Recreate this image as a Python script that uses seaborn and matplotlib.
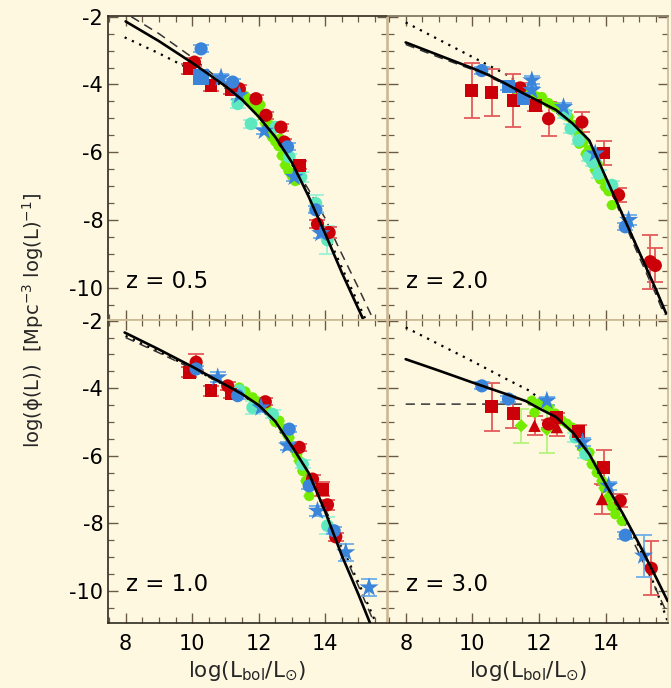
import matplotlib
matplotlib.use("Agg")
import matplotlib.pyplot as plt
import seaborn as sns
from matplotlib.ticker import MultipleLocator

sns.set_theme(style="ticks")
plt.rcParams['font.family'] = ['DejaVu Sans']
plt.rcParams['mathtext.fontset'] = 'dejavusans'

BG = "#fff8e1"
RED, RED_E = "#cc0008", "#e35a5a"
BLUE, BLUE_E = "#3a84da", "#6eaee8"
GREEN, GREEN_E = "#74ec00", "#b6f27a"
CYAN, CYAN_E = "#5de8bf", "#9cf2d9"
DARK, TAN = "#2f2a20", "#cbb893"

# ---------------- data (x = log L, y = log phi, yerr) ----------------
# z = 0.5
Z05_RED_SQ = [(9.92, -3.54, 0.15), (10.57, -4.03, 0.15), (11.17, -4.16, 0.12), (13.22, -6.38, 0.12)]
Z05_RED_CI = [(10.07, -3.34, 0.12), (11.42, -4.13, 0.1), (11.92, -4.42, 0.1), (12.22, -4.91, 0.1),
              (12.67, -5.26, 0.1), (12.77, -5.70, 0.1), (13.77, -8.12, 0.12), (14.12, -8.37, 0.15)]
Z05_BLUE_CI = [(10.27, -2.95, 0.1), (11.22, -3.93, 0.1), (12.87, -5.84, 0.1), (13.72, -7.70, 0.1)]
Z05_BLUE_SQ = [(10.27, -3.78, 0.15)]
Z05_BLUE_ST = [(10.87, -3.80, 0.12), (11.42, -4.32, 0.1), (12.17, -5.37, 0.1), (13.07, -6.73, 0.12),
               (13.87, -8.39, 0.15)]
Z05_CYAN = [(11.37, -4.57, 0.12), (11.77, -5.16, 0.12), (12.52, -5.26, 0.1), (12.92, -6.14, 0.1),
            (13.27, -6.73, 0.15), (13.72, -7.51, 0.25), (14.07, -8.59, 0.4)]
Z05_GREEN = [(11.5, -4.27), (11.6, -4.35), (11.7, -4.45), (11.8, -4.55), (11.9, -4.65), (12.0, -4.75),
             (12.1, -4.92), (12.2, -5.15), (12.3, -5.40), (12.4, -5.55), (12.5, -5.68), (12.6, -5.82),
             (12.7, -6.10), (12.8, -6.38), (12.9, -6.55), (13.0, -6.70), (13.1, -6.85), (12.05, -4.6),
             (12.25, -4.95), (12.45, -5.3), (12.65, -5.6), (12.85, -6.1), (12.35, -5.2)]
Z05_SOLID = [(8.0, -2.14), (9.0, -2.72), (10.0, -3.36), (10.5, -3.70), (11.0, -4.05), (11.5, -4.45),
             (12.0, -4.95), (12.5, -5.55), (13.0, -6.30), (13.5, -7.30), (14.0, -8.40), (14.5, -9.55),
             (15.13, -10.9)]
Z05_DASH = [(8.17, -2.0), (9.0, -2.5), (10.0, -3.2), (11.0, -4.0), (12.0, -4.95), (12.5, -5.55),
            (13.0, -6.30), (13.5, -7.10), (14.0, -7.95), (14.4, -8.80), (15.0, -10.0), (15.43, -10.9)]
Z05_DOT = [(7.97, -2.61), (9.0, -3.08), (9.72, -3.44), (10.5, -3.8), (11.5, -4.4), (12.5, -5.5),
           (13.5, -7.2), (14.5, -9.4), (15.2, -10.9)]

# z = 2.0
Z20_RED_SQ = [(9.98, -4.18, 0.81), (10.58, -4.23, 0.7), (11.23, -4.47, 0.78), (11.88, -4.62, 0.15),
              (13.93, -6.02, 0.35)]
Z20_RED_CI = [(11.43, -4.10, 0.15), (12.28, -5.01, 0.5), (13.28, -5.11, 0.3), (14.38, -7.26, 0.2),
              (15.33, -9.23, 0.8), (15.48, -9.34, 0.5)]
Z20_BLUE_CI = [(10.28, -3.59, 0.1), (14.58, -8.20, 0.1)]
Z20_BLUE_SQ = [(11.08, -4.06, 0.1), (11.53, -4.42, 0.12)]
Z20_BLUE_ST = [(11.78, -3.88, 0.12), (11.78, -4.17, 0.1), (12.73, -4.67, 0.12), (13.68, -6.04, 0.12),
               (14.68, -8.00, 0.15)]
Z20_CYAN = [(12.78, -4.87, 0.12), (13.18, -5.65, 0.12), (13.48, -6.14, 0.12), (13.78, -6.63, 0.12),
            (14.18, -6.97, 0.12), (12.95, -5.3, 0.12), (13.6, -6.3, 0.12)]
Z20_GREEN = [(11.38, -4.32), (11.6, -4.25), (11.9, -4.35), (12.08, -4.37), (12.28, -4.55), (12.48, -4.67),
             (12.68, -4.82), (12.88, -4.96), (13.03, -5.2), (13.18, -5.45), (13.33, -5.7), (13.48, -5.94),
             (13.58, -6.25), (13.68, -6.53), (13.83, -6.8), (13.98, -7.02), (14.08, -7.15), (14.18, -7.56),
             (13.2, -5.75), (13.4, -6.05), (13.75, -6.35)]
Z20_SOLID = [(8.0, -2.76), (9.0, -3.14), (10.0, -3.52), (10.5, -3.73), (11.0, -3.98), (11.5, -4.25),
             (12.0, -4.50), (12.5, -4.75), (13.0, -5.15), (13.5, -5.65), (14.0, -6.75), (14.5, -7.85),
             (15.0, -8.95), (15.5, -10.05), (15.8, -10.75)]
Z20_DASH = [(8.0, -2.82), (9.0, -3.2), (10.0, -3.56), (11.0, -4.0), (12.0, -4.5), (12.5, -4.8),
            (13.0, -5.25), (13.5, -5.85), (14.0, -6.85), (14.5, -7.95), (15.0, -9.1), (15.5, -10.2),
            (15.75, -10.8)]
Z20_DOT = [(8.0, -2.17), (9.0, -2.68), (10.0, -3.19), (11.08, -3.74), (12.0, -4.4), (13.0, -5.2),
           (14.0, -6.75), (15.0, -8.95), (15.8, -10.8)]

# z = 1.0
Z10_RED_SQ = [(9.92, -3.53, 0.15), (10.57, -4.07, 0.15), (11.17, -4.17, 0.12), (13.92, -6.99, 0.2)]
Z10_RED_CI = [(10.12, -3.23, 0.24), (11.07, -3.93, 0.12), (12.2, -4.4, 0.1), (13.22, -5.75, 0.1),
              (13.62, -6.69, 0.12), (14.07, -7.45, 0.15), (14.32, -8.40, 0.12)]
Z10_BLUE_CI = [(10.12, -3.43, 0.1), (11.37, -4.22, 0.1), (12.92, -5.21, 0.1), (13.52, -6.89, 0.1),
               (14.27, -8.22, 0.1)]
Z10_BLUE_ST = [(10.77, -3.68, 0.15), (12.07, -4.57, 0.12), (12.87, -5.70, 0.12), (13.77, -7.63, 0.15),
               (14.62, -8.86, 0.25), (15.32, -9.90, 0.25)]
Z10_CYAN = [(11.42, -4.07, 0.12), (11.82, -4.57, 0.2), (12.42, -4.77, 0.12), (13.32, -6.25, 0.12),
            (14.07, -8.07, 0.25)]
Z10_GREEN = [(11.42, -3.98), (11.6, -4.1), (11.82, -4.27), (12.0, -4.4), (12.22, -4.57), (12.42, -4.75),
             (12.62, -4.96), (12.77, -5.2), (12.92, -5.46), (13.07, -5.8), (13.22, -6.15), (13.32, -6.45),
             (13.42, -6.74), (13.52, -7.19), (12.5, -5.0), (12.85, -5.35), (13.15, -5.95)]
Z10_SOLID = [(7.97, -2.35), (9.0, -2.85), (10.0, -3.36), (11.0, -3.90), (11.5, -4.17), (12.0, -4.50),
             (12.5, -4.98), (13.0, -5.72), (13.5, -6.50), (14.0, -7.65), (14.5, -8.95), (15.0, -10.1),
             (15.37, -11.0)]
Z10_DASH = [(8.0, -2.5), (9.0, -2.95), (10.0, -3.42), (11.0, -3.92), (12.0, -4.5), (13.0, -5.7),
            (14.0, -7.55), (14.5, -8.75), (15.0, -9.85), (15.5, -11.0)]
Z10_DOT = [(8.0, -2.45), (9.0, -2.92), (10.0, -3.4), (11.0, -3.92), (12.0, -4.5), (13.0, -5.7),
           (14.0, -7.6), (14.5, -8.7), (15.0, -9.75), (15.55, -11.0)]

# z = 3.0
Z30_RED_SQ = [(10.58, -4.55, 0.71), (11.23, -4.75, 0.42), (12.53, -4.86, 0.12), (13.18, -5.28, 0.2),
              (13.93, -6.35, 0.52)]
Z30_RED_CI = [(12.28, -5.06, 0.12), (14.43, -7.33, 0.2), (15.36, -9.33, 0.8)]
Z30_RED_TRI = [(11.86, -5.11, 0.28), (12.53, -5.15, 0.27), (13.88, -7.28, 0.45)]
Z30_BLUE_CI = [(10.28, -3.93, 0.1), (11.08, -4.32, 0.1), (14.58, -8.35, 0.1)]
Z30_BLUE_ST = [(12.23, -4.37, 0.12), (13.3, -5.6, 0.12), (14.08, -6.89, 0.12), (15.13, -8.96, 0.62)]
Z30_GREEN_D = [(11.46, -5.11, 0.5), (12.23, -5.22, 0.7)]
Z30_CYAN = [(13.08, -5.46, 0.12), (13.38, -5.95, 0.12)]
Z30_GREEN = [(11.78, -4.37), (11.86, -4.72), (12.0, -4.45), (12.28, -4.57), (12.48, -4.75), (12.68, -4.96),
             (12.83, -5.05), (12.98, -5.16), (13.13, -5.45), (13.28, -5.75), (13.43, -6.0), (13.58, -6.25),
             (13.73, -6.5), (13.88, -6.74), (14.08, -7.24), (14.18, -7.5), (14.28, -7.73), (14.48, -7.93),
             (13.5, -5.9), (13.95, -6.95)]
Z30_SOLID = [(8.0, -3.14), (9.0, -3.48), (10.0, -3.83), (11.0, -4.17), (11.6, -4.38), (12.0, -4.60),
             (12.5, -4.85), (13.0, -5.30), (13.5, -5.95), (14.0, -6.85), (14.5, -7.70), (15.0, -8.62),
             (15.5, -9.60), (15.85, -10.3)]
Z30_DASH = [(8.0, -4.47), (11.5, -4.47), (12.0, -4.5), (12.5, -4.8), (13.0, -5.35), (13.5, -6.05),
            (14.0, -6.95), (14.5, -7.9), (15.0, -8.9), (15.5, -9.95), (15.85, -10.7)]
Z30_DOT = [(8.0, -2.2), (9.0, -2.7), (10.0, -3.2), (11.0, -3.72), (11.7, -4.07), (12.0, -4.3),
           (12.5, -4.75), (13.0, -5.3), (13.5, -6.0), (14.0, -6.85), (14.5, -7.75), (15.0, -8.7),
           (15.5, -9.95), (15.85, -10.9)]

Z_LABELS = ["z = 0.5", "z = 2.0", "z = 1.0", "z = 3.0"]
X_TICKS = [8, 10, 12, 14]
Y_TICKS = [-2, -4, -6, -8, -10]

PANELS = [
    dict(lines=(Z05_SOLID, Z05_DASH, Z05_DOT),
         pts=[(Z05_GREEN, 'o', 55, GREEN, GREEN_E), (Z05_CYAN, 'o', 85, CYAN, CYAN_E),
              (Z05_RED_SQ, 's', 85, RED, RED_E), (Z05_RED_CI, 'o', 90, RED, RED_E),
              (Z05_BLUE_SQ, 's', 130, BLUE, BLUE_E), (Z05_BLUE_CI, 'o', 90, BLUE, BLUE_E),
              (Z05_BLUE_ST, '*', 210, BLUE, BLUE_E)]),
    dict(lines=(Z20_SOLID, Z20_DASH, Z20_DOT),
         pts=[(Z20_GREEN, 'o', 55, GREEN, GREEN_E), (Z20_CYAN, 'o', 85, CYAN, CYAN_E),
              (Z20_RED_SQ, 's', 85, RED, RED_E), (Z20_RED_CI, 'o', 90, RED, RED_E),
              (Z20_BLUE_SQ, 's', 90, BLUE, BLUE_E), (Z20_BLUE_CI, 'o', 90, BLUE, BLUE_E),
              (Z20_BLUE_ST, '*', 210, BLUE, BLUE_E)]),
    dict(lines=(Z10_SOLID, Z10_DASH, Z10_DOT),
         pts=[(Z10_GREEN, 'o', 55, GREEN, GREEN_E), (Z10_CYAN, 'o', 85, CYAN, CYAN_E),
              (Z10_RED_SQ, 's', 85, RED, RED_E), (Z10_RED_CI, 'o', 90, RED, RED_E),
              (Z10_BLUE_CI, 'o', 90, BLUE, BLUE_E), (Z10_BLUE_ST, '*', 210, BLUE, BLUE_E)]),
    dict(lines=(Z30_SOLID, Z30_DASH, Z30_DOT),
         pts=[(Z30_GREEN, 'o', 55, GREEN, GREEN_E), (Z30_GREEN_D, 'D', 45, GREEN, GREEN_E),
              (Z30_CYAN, 'o', 75, CYAN, CYAN_E),
              (Z30_RED_SQ, 's', 85, RED, RED_E), (Z30_RED_CI, 'o', 90, RED, RED_E),
              (Z30_RED_TRI, '^', 80, RED, RED_E), (Z30_BLUE_CI, 'o', 90, BLUE, BLUE_E),
              (Z30_BLUE_ST, '*', 210, BLUE, BLUE_E)]),
]

W, H = 671, 688
fig = plt.figure(figsize=(W / 100, H / 100), dpi=100, facecolor=BG)
boxes = [(108, 16, 387, 320), (388, 16, 668, 320), (108, 320, 387, 623), (388, 320, 668, 623)]

for i, (panel, box) in enumerate(zip(PANELS, boxes)):
    x0, y0, x1, y1 = box
    ax = fig.add_axes([x0 / W, 1 - y1 / H, (x1 - x0) / W, (y1 - y0) / H])
    ax.set_facecolor(BG)
    ax.set_xlim(7.47, 15.86)
    ax.set_ylim(-10.95, -1.98)

    solid, dash, dot = panel['lines']
    sns.lineplot(x=[p[0] for p in dot], y=[p[1] for p in dot], sort=False, estimator=None, ax=ax,
                 color='black', lw=1.6, linestyle=(0, (1, 2.6)), zorder=2)
    sns.lineplot(x=[p[0] for p in dash], y=[p[1] for p in dash], sort=False, estimator=None, ax=ax,
                 color='#333333', lw=1.1, linestyle=(0, (6, 4)), zorder=2)

    for series, mk, s, col, ecol in panel['pts']:
        xs = [p[0] for p in series]
        ys = [p[1] for p in series]
        if len(series[0]) == 3:
            es = [p[2] for p in series]
            ax.errorbar(xs, ys, yerr=es, fmt='none', ecolor=ecol, elinewidth=1.3, capsize=6,
                        capthick=1.3, zorder=3)
        else:
            ax.errorbar(xs, ys, xerr=0.18, yerr=0.12, fmt='none', ecolor=ecol, elinewidth=1.1,
                        capsize=0, zorder=3)
        sns.scatterplot(x=xs, y=ys, marker=mk, s=s, color=col, edgecolor='none', linewidth=0,
                        ax=ax, zorder=4)

    sns.lineplot(x=[p[0] for p in solid], y=[p[1] for p in solid], sort=False, estimator=None, ax=ax,
                 color='black', lw=1.9, zorder=5)

    ax.text(8.0, -10.0, Z_LABELS[i], fontsize=16.5, ha='left', va='baseline', color='black', zorder=6)

    ax.xaxis.set_major_locator(MultipleLocator(2))
    ax.xaxis.set_minor_locator(MultipleLocator(0.5))
    ax.yaxis.set_major_locator(MultipleLocator(2))
    ax.yaxis.set_minor_locator(MultipleLocator(0.5))
    ax.tick_params(which='both', direction='in', top=True, right=True, colors='#6a5c44',
                   labelcolor='black', labelsize=15)
    ax.tick_params(which='major', length=7, width=1)
    ax.tick_params(which='minor', length=4, width=0.9)
    ax.tick_params(axis='x', which='major', pad=8)
    ax.set_xticks(X_TICKS)
    ax.set_yticks(Y_TICKS)
    if i in (0, 2):
        ax.set_yticklabels([str(t) for t in Y_TICKS])
    else:
        ax.set_yticklabels([])
    if i in (2, 3):
        ax.set_xticklabels([str(t) for t in X_TICKS])
        ax.set_xlabel(r'log(L$_{\rm bol}$/L$_{\odot}$)', fontsize=15.5, labelpad=4)
    else:
        ax.set_xticklabels([])
    ax.set_ylabel('')

    for side in ['left', 'right', 'top', 'bottom']:
        ax.spines[side].set_linewidth(1.2)
        ax.spines[side].set_color(TAN)
    if i in (0, 2):
        ax.spines['left'].set_color(DARK)
    if i in (2, 3):
        ax.spines['bottom'].set_color(DARK)
    if i == 0:
        ax.spines['top'].set_color(DARK)
    if i == 1:
        ax.spines['top'].set_color('#7a6e5a')

fig.text(33 / W, 1 - 320 / H, 'log(\u03d5(L))  [Mpc$^{-3}$ log(L)$^{-1}$]', rotation=90,
         ha='center', va='center', fontsize=14)

fig.savefig('out.png', dpi=100, facecolor=BG)
